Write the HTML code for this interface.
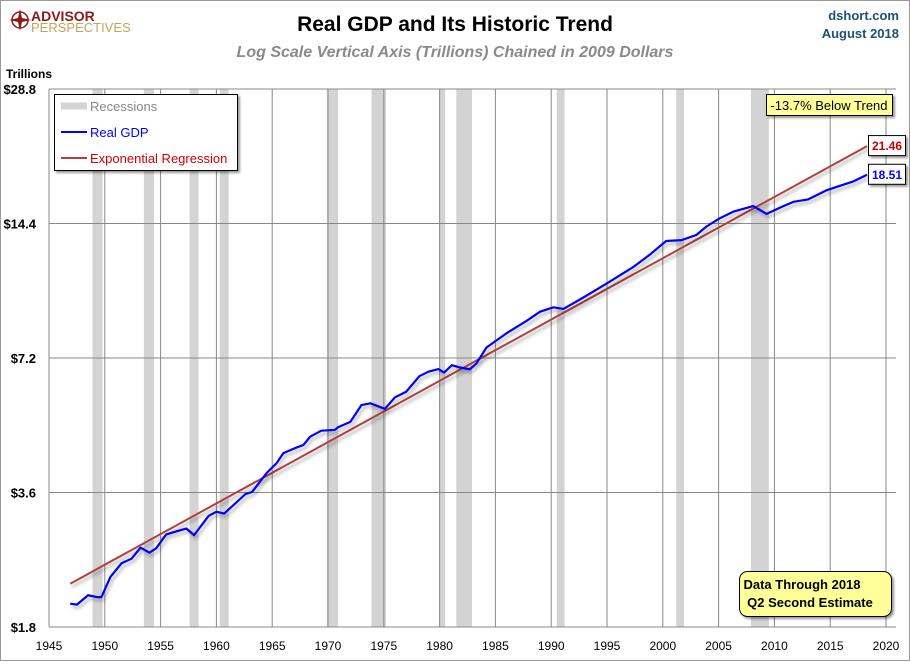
<!DOCTYPE html>
<html><head><meta charset="utf-8"><style>
body{margin:0;background:#fff;}
svg text{font-family:"Liberation Sans",sans-serif;}
</style></head><body>
<svg id="chart" width="910" height="661" xmlns="http://www.w3.org/2000/svg">
<rect x="0.5" y="0.5" width="909" height="660" fill="#fff" stroke="#999"/>
<g>
<circle cx="20" cy="20" r="8" fill="none" stroke="#8b1a1a" stroke-width="1.5"/>
<path d="M20 9 L22 18 L31 20 L22 22 L20 31 L18 22 L9 20 L18 18 Z" fill="#8b1a1a"/>
<text x="31" y="21" font-size="14" font-weight="bold" fill="#8b1a1a">ADVISOR</text>
<text x="31" y="32" font-size="13" fill="#c4a45a">PERSPECTIVES</text>
</g>
<text x="455" y="31" text-anchor="middle" font-size="21" font-weight="bold" fill="#000">Real GDP and Its Historic Trend</text>
<text x="455" y="57" text-anchor="middle" font-size="16" font-style="italic" font-weight="bold" fill="#8a8a8a">Log Scale Vertical Axis (Trillions) Chained in 2009 Dollars</text>
<text x="899" y="20" text-anchor="end" font-size="13" font-weight="bold" fill="#1f4e79">dshort.com</text>
<text x="899" y="38" text-anchor="end" font-size="13" font-weight="bold" fill="#1f4e79">August 2018</text>
<text x="6" y="78" font-size="12" font-weight="bold" fill="#000">Trillions</text>
<g id="plot"></g>
</svg>
<script>
const years=[1946.9,1947.5,1948.5,1949.3,1949.7,1950.5,1951.5,1952.4,1953.2,1954.0,1954.6,1955.5,1956.7,1957.3,1958.0,1959.3,1960.0,1960.7,1962.6,1963.2,1964.5,1965.4,1966.0,1967.0,1967.8,1968.4,1969.4,1970.6,1970.9,1972.0,1973.0,1973.8,1975.1,1976.0,1977.0,1978.2,1979.0,1979.9,1980.4,1981.1,1981.8,1982.7,1983.3,1984.2,1986.0,1987.8,1989.0,1990.2,1991.1,1992.9,1995.0,1997.4,1998.9,2000.3,2001.7,2003.0,2003.9,2005.1,2006.3,2008.1,2009.3,2010.8,2011.7,2013.0,2014.7,2015.9,2017.1,2018.3];
const gdp=[2.03,2.02,2.12,2.10,2.10,2.33,2.50,2.56,2.71,2.64,2.70,2.90,2.96,2.99,2.89,3.19,3.26,3.23,3.57,3.61,3.98,4.19,4.41,4.52,4.60,4.80,4.95,4.97,5.04,5.18,5.65,5.70,5.54,5.88,6.05,6.56,6.71,6.80,6.68,6.94,6.86,6.79,7.00,7.60,8.18,8.72,9.14,9.35,9.27,9.84,10.58,11.53,12.30,13.16,13.22,13.57,14.17,14.79,15.30,15.75,15.13,15.75,16.10,16.30,17.10,17.50,17.90,18.51];
const trendYears=[1946.9,2018.3];
const trendValues=[2.25,21.46];
const recessionStart=[1948.9,1953.5,1957.6,1960.3,1969.9,1973.9,1980.0,1981.5,1990.5,2001.2,2007.9];
const recessionEnd=[1949.8,1954.4,1958.4,1961.1,1970.9,1975.2,1980.5,1982.9,1991.2,2001.9,2009.5];
const yTicks=[1.8,3.6,7.2,14.4,28.8];
const yTickLabels=["$1.8","$3.6","$7.2","$14.4","$28.8"];
const xTicks=[1945,1950,1955,1960,1965,1970,1975,1980,1985,1990,1995,2000,2005,2010,2015,2020];
const gdpLabel="18.51", trendLabel="21.46";

const NS="http://www.w3.org/2000/svg";
const L=49,R=896,T=89,B=627;
const xs=y=>L+(y-1945)*(55.8/5);
const ys=v=>T+Math.log2(28.8/v)*((B-T)/4);
const plot=document.getElementById('plot');
function mk(tag,attrs,parent){const e=document.createElementNS(NS,tag);for(const k in attrs)e.setAttribute(k,attrs[k]);(parent||plot).appendChild(e);return e;}

recessionStart.forEach((s,i)=>{
 const r=mk('rect',{x:xs(s),y:T,width:xs(recessionEnd[i])-xs(s),height:B-T,fill:'#d3d3d3'});
 
 
});
xTicks.forEach(t=>{
 if(t>1945){const l=mk('line',{x1:xs(t),x2:xs(t),y1:T,y2:B,stroke:'#888','stroke-width':1});
 
 }
 const tx=mk('text',{x:xs(t),y:B+23,'text-anchor':'middle','font-size':12,fill:'#000'});
 tx.textContent=t;
 
 
});
yTicks.forEach((v,i)=>{
 const l=mk('line',{x1:L,x2:R,y1:ys(v),y2:ys(v),stroke:'#888','stroke-width':1});
 
 
 const tx=mk('text',{x:36,y:ys(v)+5,'text-anchor':'end','font-size':13,'font-weight':'bold',fill:'#000'});
 tx.textContent=yTickLabels[i];
 
 
});
const ax=mk('line',{x1:L,x2:L,y1:T,y2:B,stroke:'#888'});



const sh='filter:drop-shadow(2px 3px 1.5px rgba(0,0,0,0.3))';
const tp=mk('path',{d:'M'+trendYears.map((y,i)=>xs(y)+','+ys(trendValues[i])).join(' L'),stroke:'#b0413e','stroke-width':2,fill:'none',style:sh});


const gp=mk('path',{d:'M'+years.map((y,i)=>xs(y)+','+ys(gdp[i])).join(' L'),stroke:'#0000ff','stroke-width':2.2,fill:'none','stroke-linejoin':'round',style:sh});



function box(x,y,w,h,fill,rx){return mk('rect',{x:x,y:y,width:w,height:h,fill:fill,stroke:'#000','stroke-width':1,rx:rx||0,style:'filter:drop-shadow(2px 2px 1px rgba(0,0,0,0.4))'});}
const lg=box(54.5,94.5,183,76,'#fff');


const items=[['Recessions','#888','#d3d3d3',7],['Real GDP','#0000ff','#0000ff',2],['Exponential Regression','#cc0000','#b0413e',2]];
items.forEach((it,i)=>{
 const y=106+i*26;
 const sw=mk('line',{x1:61,x2:87,y1:y,y2:y,stroke:it[2],'stroke-width':it[3]});
 
 
 const t=mk('text',{x:90,y:y+5,'font-size':13,fill:it[1]});
 t.textContent=it[0];
 
 
});
const bt=box(766.5,94.5,126,21,'#ffff99');


const btt=mk('text',{x:829,y:110,'text-anchor':'middle','font-size':13,fill:'#000'});
btt.textContent='-13.7% Below Trend';



const tb=box(868.5,ys(trendValues[1])-10.5,37,20,'#fff');


const tbt=mk('text',{x:887,y:ys(trendValues[1])+4,'text-anchor':'middle','font-size':12,'font-weight':'bold',fill:'#cc0000'});
tbt.textContent=trendLabel;


const gb=box(868.5,ys(gdp[gdp.length-1])-10.5,37,20,'#fff');


const gbt=mk('text',{x:887,y:ys(gdp[gdp.length-1])+4,'text-anchor':'middle','font-size':12,'font-weight':'bold',fill:'#0000ff'});
gbt.textContent=gdpLabel;



const db=box(739.5,571.5,152,45,'#ffff99',8);


const d1=mk('text',{x:802,y:589,'text-anchor':'middle','font-size':13,'font-weight':'bold',fill:'#000'});
d1.textContent='Data Through 2018';


const d2=mk('text',{x:810,y:607,'text-anchor':'middle','font-size':13,'font-weight':'bold',fill:'#000'});
d2.textContent='Q2 Second Estimate';


</script>
</body></html>
